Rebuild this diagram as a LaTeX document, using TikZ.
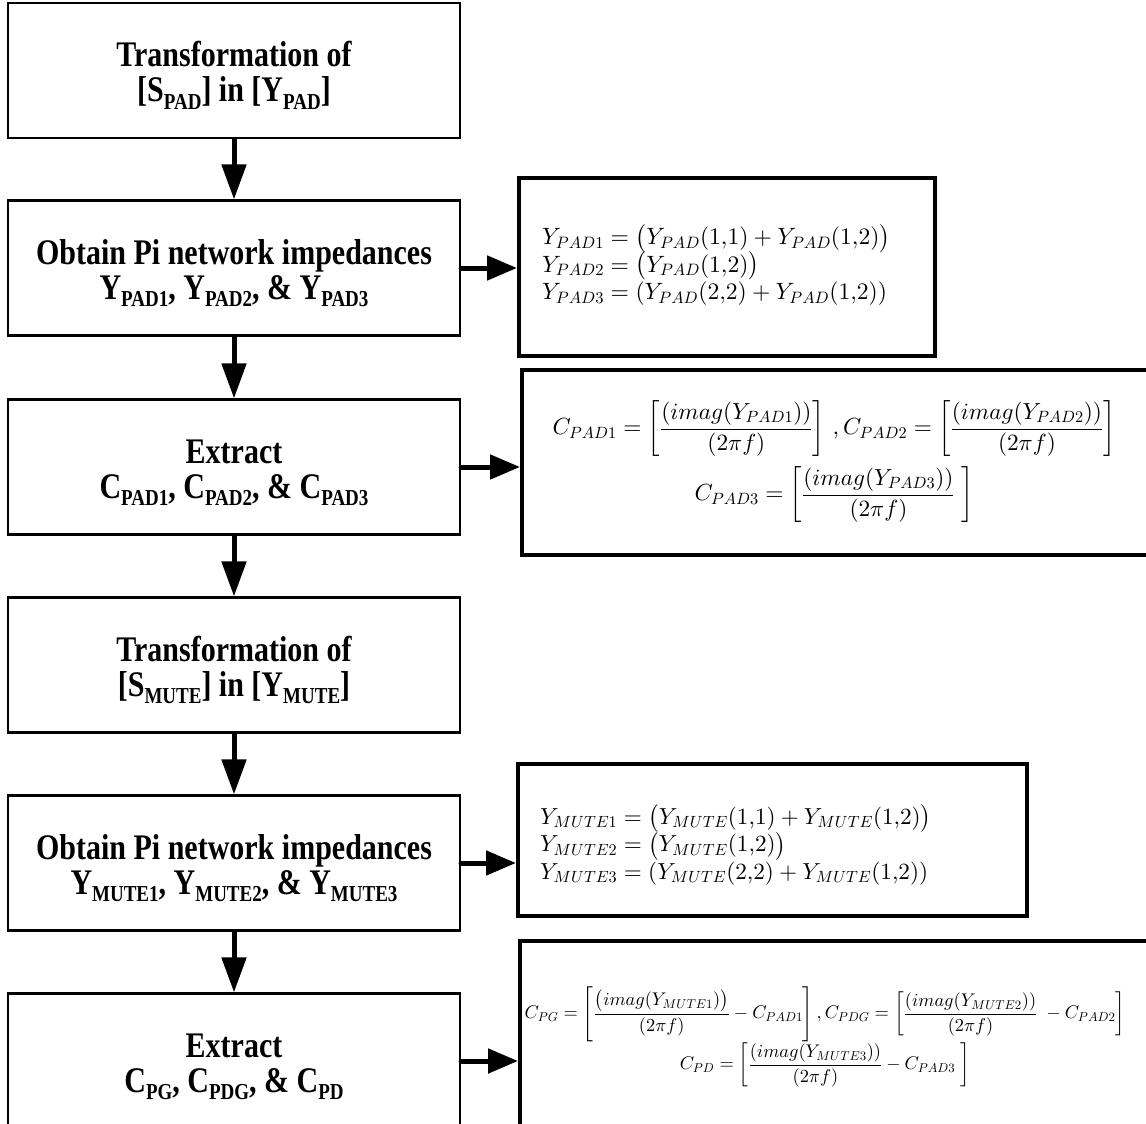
\documentclass[tikz,border=0pt]{standalone}
\usepackage{amsmath}
\usepackage{fontspec}
\setmainfont{Liberation Serif}
\DeclareFontShape{OML}{cmm}{m}{it}{<->cmmi10}{}
\DeclareFontShape{OT1}{cmr}{m}{n}{<->cmr10}{}
\DeclareFontShape{OMS}{cmsy}{m}{n}{<->cmsy10}{}
\DeclareFontShape{OMX}{cmex}{m}{n}{<->cmex10}{}
\usetikzlibrary{arrows.meta}
\setlength{\lineskiplimit}{-100pt}
\setlength{\lineskip}{0pt}
\newcommand{\lsb}[1]{\raisebox{-0.2em}{\fontsize{19}{19}\selectfont #1}}
\newcommand{\vs}[1]{\scalebox{1}[1.2]{#1}}
\tikzset{
 lbox/.style={draw, line width=2.2pt, minimum width=452pt, minimum height=135pt, inner sep=0pt, align=center, font={\fontsize{30}{35}\selectfont\bfseries}},
 rbox/.style={draw, line width=4pt, inner sep=0pt},
 fml/.style={inner sep=0pt, font={\fontsize{23.6}{27.5}\selectfont}},
 varrow/.style={line width=5pt, -{Triangle[length=35pt,width=24pt]}},
 harrow/.style={line width=5pt, line cap=round, -{Triangle[length=30pt,width=24pt]}},
}
\begin{document}
\begin{tikzpicture}[x=1pt,y=-1pt]
\useasboundingbox (0,0) rectangle (1146,1124);
\clip (0,0) rectangle (1146,1124);
\fill[white] (0,0) rectangle (1146,1124);
% left boxes
\node[lbox] (b1) at (234,70.5) {\rule{0pt}{35pt}\vs{Transformation of}\\\vs{[S\lsb{PAD}] in [Y\lsb{PAD}]}};
\node[lbox] (b2) at (234,268) {\rule{0pt}{35pt}\vs{Obtain Pi network impedances}\\\vs{Y\lsb{PAD1}, Y\lsb{PAD2}, \& Y\lsb{PAD3}}};
\node[lbox] (b3) at (234,467) {\rule{0pt}{35pt}\vs{Extract}\\\vs{C\lsb{PAD1}, C\lsb{PAD2}, \& C\lsb{PAD3}}};
\node[lbox] (b4) at (234,665) {\rule{0pt}{35pt}\vs{Transformation of}\\\vs{[S\lsb{MUTE}] in [Y\lsb{MUTE}]}};
\node[lbox] (b5) at (234,863) {\rule{0pt}{35pt}\vs{Obtain Pi network impedances}\\\vs{Y\lsb{MUTE1}, Y\lsb{MUTE2}, \& Y\lsb{MUTE3}}};
\node[lbox] (b6) at (234,1061) {\rule{0pt}{35pt}\vs{Extract}\\\vs{C\lsb{PG}, C\lsb{PDG}, \& C\lsb{PD}}};
% right boxes
\node[rbox, minimum width=416pt, minimum height=178pt] (r1) at (727,267) {};
\node[rbox, minimum width=630pt, minimum height=185pt] (r2) at (837,462.5) {};
\node[rbox, minimum width=509pt, minimum height=152pt] (r3) at (772.5,840) {};
\node[rbox, minimum width=632pt, minimum height=194pt] (r4) at (836,1038) {};
% formulas
\node[fml, anchor=west, align=left] (t1) at (542,265) {$Y_{PAD1}=\bigl(Y_{PAD}(1{,}1)+Y_{PAD}(1{,}2)\bigr)$\\$Y_{PAD2}=\bigl(Y_{PAD}(1{,}2)\bigr)$\\$Y_{PAD3}=(Y_{PAD}(2{,}2)+Y_{PAD}(1{,}2))$};
\node[fml, align=center, font={\fontsize{23.3}{66}\selectfont}] (t2) at (834,462) {$C_{PAD1}=\left[\dfrac{(imag(Y_{PAD1}))}{(2\pi f)}\right]\,,C_{PAD2}=\left[\dfrac{(imag(Y_{PAD2}))}{(2\pi f)}\right]$\\$C_{PAD3}=\left[\dfrac{(imag(Y_{PAD3}))}{(2\pi f)}\;\right]$};
\node[fml, anchor=west, align=left, font={\fontsize{23.2}{27.5}\selectfont}] (t3) at (540,845) {$Y_{MUTE1}=\bigl(Y_{MUTE}(1{,}1)+Y_{MUTE}(1{,}2)\bigr)$\\$Y_{MUTE2}=\bigl(Y_{MUTE}(1{,}2)\bigr)$\\$Y_{MUTE3}=(Y_{MUTE}(2{,}2)+Y_{MUTE}(1{,}2))$};
\node[fml, align=center, font={\fontsize{18.35}{51}\selectfont}] (t4) at (825,1037) {$C_{PG}=\left[\dfrac{\bigl(imag(Y_{MUTE1})\bigr)}{(2\pi f)}-C_{PAD1}\right],C_{PDG}=\left[\dfrac{(imag(Y_{MUTE2}))}{(2\pi f)}\;-C_{PAD2}\right]$\\$C_{PD}=\left[\dfrac{(imag(Y_{MUTE3}))}{(2\pi f)}-C_{PAD3}\;\right]$};
% vertical arrows
\draw[varrow] (b1.south) -- (b2.north);
\draw[varrow] (b2.south) -- (b3.north);
\draw[varrow] (b3.south) -- (b4.north);
\draw[varrow] (b4.south) -- (b5.north);
\draw[varrow] (b5.south) -- (b6.north);
% horizontal arrows
\draw[harrow] (b2.east) -- (b2.east -| r1.west);
\draw[harrow] (b3.east) -- (b3.east -| r2.west);
\draw[harrow] (b5.east) -- (b5.east -| r3.west);
\draw[harrow] (b6.east) -- (b6.east -| r4.west);
\end{tikzpicture}
\end{document}
